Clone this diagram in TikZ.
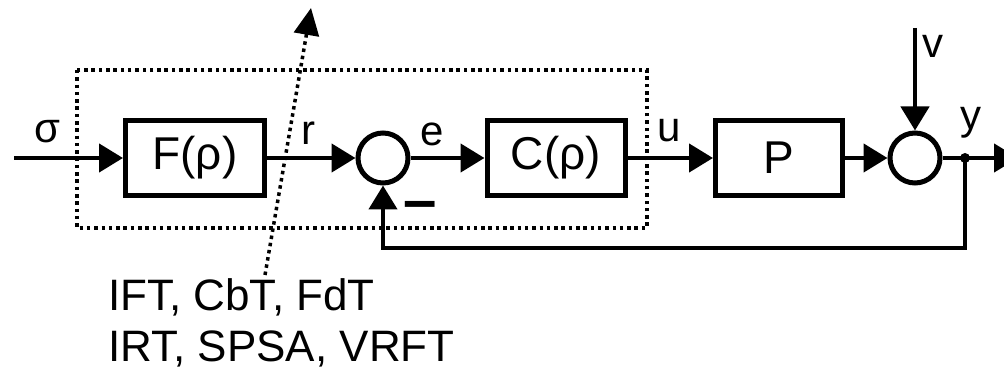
\documentclass[tikz,border=0pt]{standalone}
\usepackage{fontspec}
\setmainfont{Liberation Sans}
\usetikzlibrary{arrows.meta, positioning, calc}

\begin{document}
\begin{tikzpicture}[x=1pt, y=-1pt,
  block/.style={draw, line width=5pt, minimum width=139pt, minimum height=75pt, inner sep=0pt, font=\fontsize{46}{52}\selectfont},
  sumnode/.style={draw, circle, line width=5pt, minimum size=50pt, inner sep=0pt},
  sig/.style={line width=4.5pt, -{Triangle[length=24pt, width=28pt]}},
  lbl/.style={inner sep=0pt, font=\fontsize{42}{48}\selectfont},
  dots/.style={line width=3.5pt, dash pattern=on 3.5pt off 3.8pt},
  txt/.style={inner sep=0pt, anchor=base west, font=\fontsize{44}{52}\selectfont}]
  \useasboundingbox (0,0) rectangle (1004,371);
  \clip (0,0) rectangle (1004,371);
  % tuned part
  \draw[dots] (77,70) rectangle (647,228);
  % blocks
  \node[block] (F) at (195,158) {F(ρ)};
  \node[sumnode] (S1) at (383,158) {};
  \node[block, minimum width=138pt] (C) at (556,158) {C(ρ)};
  \node[block, minimum width=127pt] (P) at (779,158) {P};
  \node[sumnode] (S2) at (915,158) {};
  % free ends
  \coordinate (in) at (14,158);
  \coordinate (vin) at (915,28);
  \coordinate (out) at (1018,158);
  \coordinate (tap) at (965,158);
  \coordinate (fb) at (965,248);
  % signals
  \draw[sig] (in) -- (F);
  \draw[sig] (F) -- (S1);
  \draw[sig] (S1) -- (C);
  \draw[sig] (C) -- (P);
  \draw[sig] (P) -- (S2);
  \draw[sig] (vin) -- (S2);
  \draw[sig] (S2) -- (out);
  \fill (tap) circle (5pt);
  \draw[sig] (tap) -- (fb) -| (S1.south);
  % labels
  \node[lbl] (sigma) at (47,132) {σ};
  \node[lbl] (r) at (308,133) {r};
  \node[lbl] (e) at (432,134) {e};
  \node[lbl] (u) at (669,131) {u};
  \node[lbl] (v) at (933,46) {v};
  \node[lbl] (y) at (971,123) {y};
  \node[lbl, font=\fontsize{60}{64}\bfseries] (minus) at (420,211) {–};
  % methods
  \node[txt] (methA) at (108,311) {IFT, CbT, FdT};
  \node[txt] (methB) at (108,361) {IRT, SPSA, VRFT};
  \coordinate (tune) at (265,275);
  \coordinate (tunetip) at (311,8);
  \draw[dots, -{Triangle[length=27pt, width=25pt]}] (tune) -- (tunetip);
\end{tikzpicture}
\end{document}
